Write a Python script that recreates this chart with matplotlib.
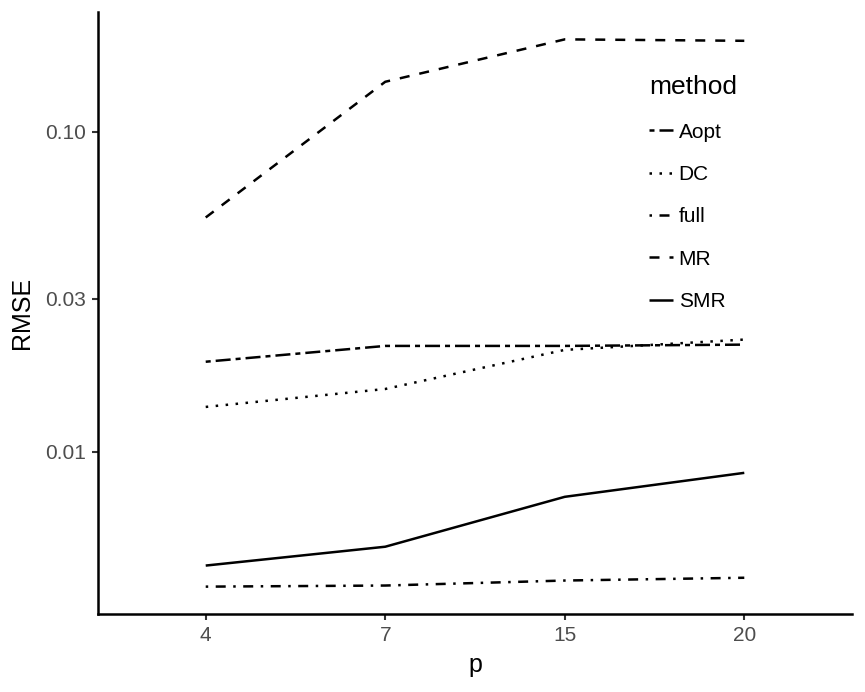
import numpy as np
import matplotlib
matplotlib.use("Agg")
import matplotlib.pyplot as plt
from matplotlib.ticker import FixedLocator, NullLocator

p_labels = ["4", "7", "15", "20"]
methods = ["Aopt", "DC", "full", "MR", "SMR"]

rmse_aopt = [0.0191, 0.0214, 0.0214, 0.0216]
rmse_dc = [0.0138, 0.0157, 0.0208, 0.0224]
rmse_full = [0.00379, 0.00382, 0.00396, 0.00404]
rmse_mr = [0.0539, 0.143, 0.194, 0.192]
rmse_smr = [0.00441, 0.00505, 0.00723, 0.00859]

y_ticks = [0.01, 0.03, 0.10]
y_tick_labels = ["0.01", "0.03", "0.10"]

# ggplot-ish linetypes (dash units scale with linewidth)
linetypes = {
    "Aopt": (0, (2, 2, 6, 2)),   # twodash
    "DC": (0, (1, 3)),           # dotted
    "full": (0, (1, 3, 4, 3)),   # dotdash
    "MR": (0, (4, 4)),           # dashed
    "SMR": "-",                  # solid
}
series = {"Aopt": rmse_aopt, "DC": rmse_dc, "full": rmse_full,
          "MR": rmse_mr, "SMR": rmse_smr}

plt.rcParams['font.family'] = ['Liberation Sans', 'DejaVu Sans']

W, H = 865, 692
fig = plt.figure(figsize=(W / 100, H / 100), dpi=100)
ax = fig.add_axes([98 / W, (H - 614) / H, (852 - 98) / W, (614 - 12) / H])

x = np.arange(len(p_labels))
lw = 1.8
for m in methods:
    ax.plot(x, series[m], color="black", lw=lw, linestyle=linetypes[m],
            label=m, solid_capstyle="butt")

ax.set_yscale("log")
all_vals = np.log10(np.concatenate([series[m] for m in methods]))
lo, hi = all_vals.min(), all_vals.max()
pad = 0.05 * (hi - lo)
ax.set_ylim(10 ** (lo - pad), 10 ** (hi + pad))
ax.set_xlim(-0.6, len(p_labels) - 1 + 0.6)

ax.yaxis.set_major_locator(FixedLocator(y_ticks))
ax.yaxis.set_minor_locator(NullLocator())
ax.set_yticklabels(y_tick_labels)
ax.set_xticks(x)
ax.set_xticklabels(p_labels)

for s in ["top", "right"]:
    ax.spines[s].set_visible(False)
for s in ["left", "bottom"]:
    ax.spines[s].set_linewidth(1.8)
    ax.spines[s].set_color("black")
ax.tick_params(axis="both", which="major", length=4.5, width=1.5,
               color="#333333", labelcolor="#4D4D4D", labelsize=15, pad=4)

ax.set_xlabel("p", fontsize=18, color="black", labelpad=6)
ax.set_ylabel("RMSE", fontsize=18, color="black", labelpad=8)

leg = ax.legend(title="method", loc="upper left",
                bbox_to_anchor=(638 / W, 1 - 64 / H), bbox_transform=fig.transFigure,
                frameon=False, fontsize=15, title_fontsize=19,
                handlelength=1.15, handletextpad=0.25, labelspacing=1.12,
                borderpad=0.55, alignment="left", borderaxespad=0)

fig.savefig("out.png", dpi=100, facecolor="white")
